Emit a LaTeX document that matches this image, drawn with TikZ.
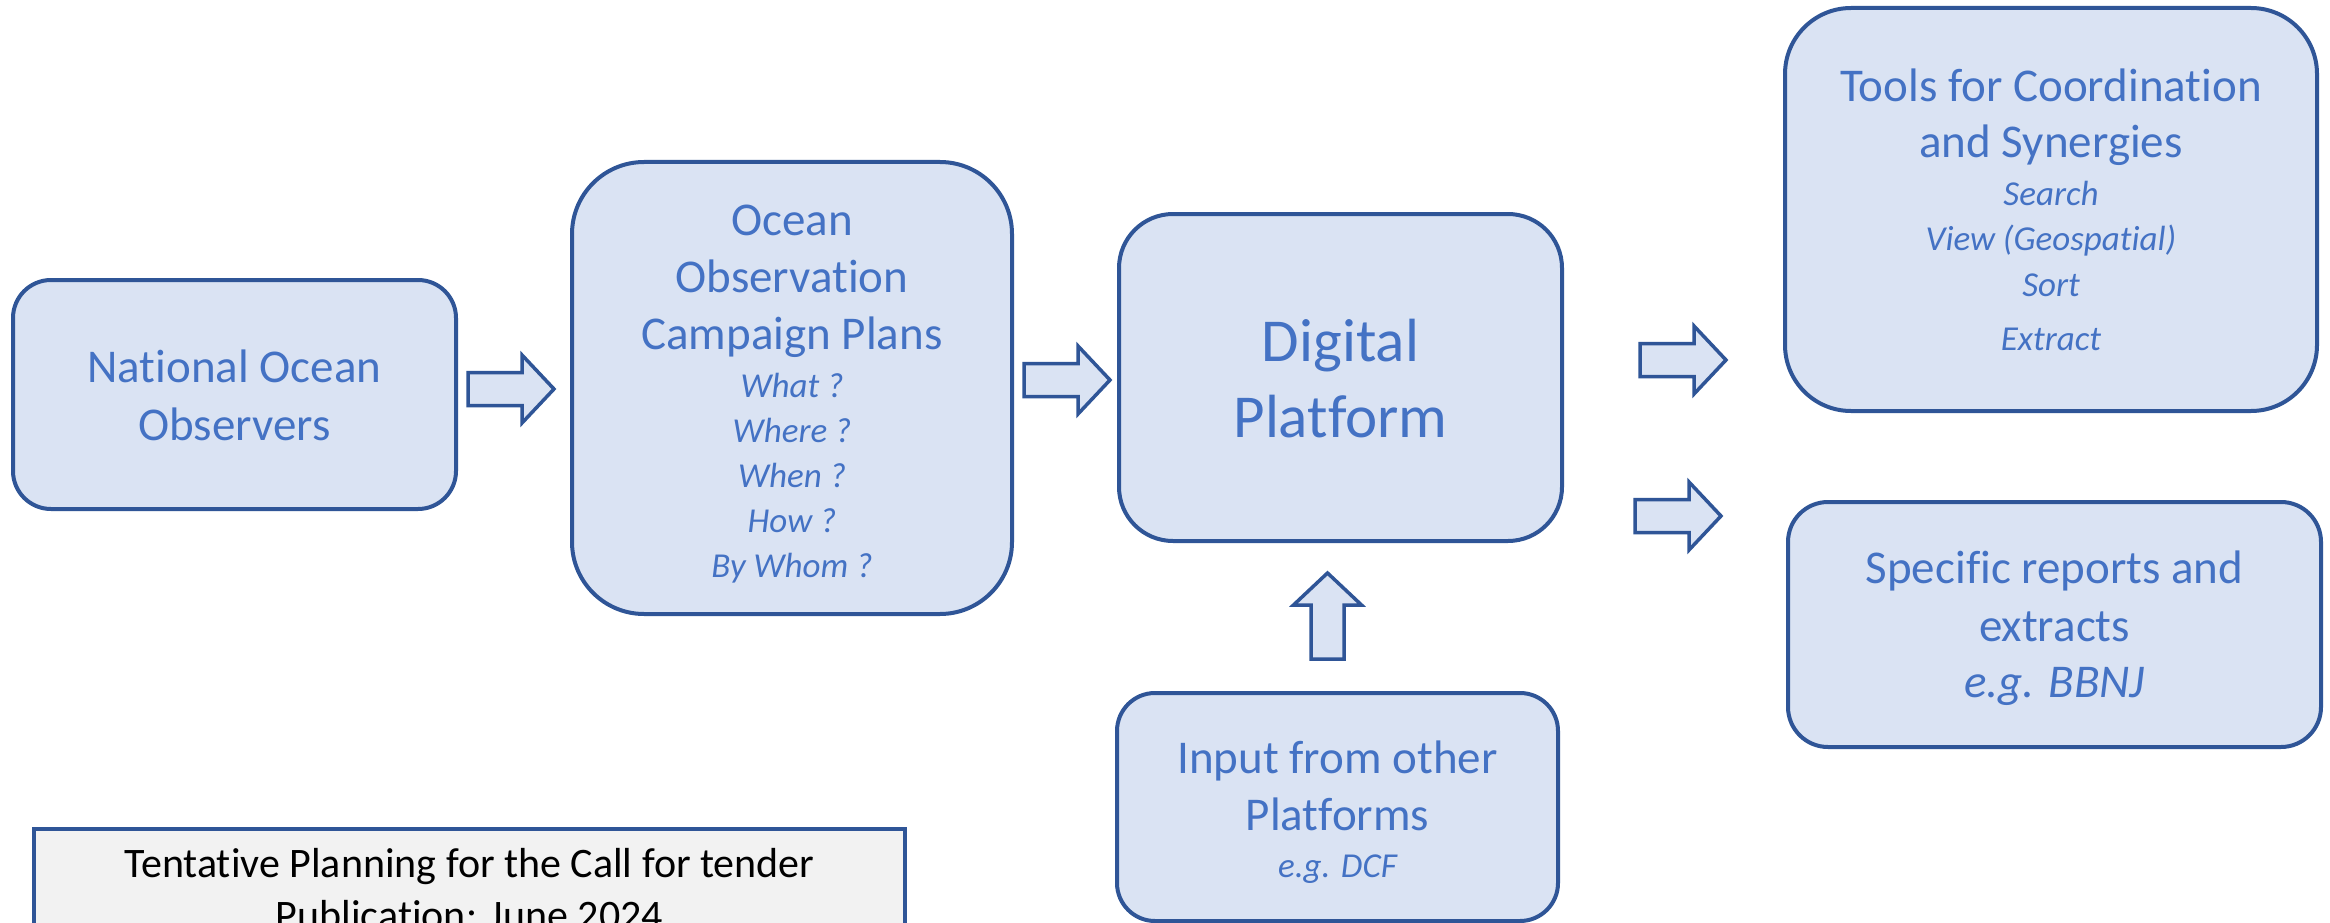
\documentclass[tikz,border=0pt]{standalone}
\usepackage{fontspec}
\setmainfont{Carlito}[Ligatures=NoCommon]
\definecolor{boxfill}{HTML}{DAE3F3}
\definecolor{boxline}{HTML}{2F5597}
\definecolor{boxtext}{HTML}{4472C4}
\definecolor{tentfill}{HTML}{F2F2F2}
\newcommand\subline[1]{{\fontsize{35}{45}\selectfont\itshape #1}}
\tikzset{
  box/.style={draw=boxline, fill=boxfill, line width=4pt, inner sep=0pt, outer sep=0pt},
  txt/.style={text=boxtext, align=center, inner sep=0pt, anchor=base},
  barrow/.pic={\draw[draw=boxline, fill=boxfill, line width=3.5pt, line join=miter]
     (-43,-16.5) -- (11,-16.5) -- (11,-34) -- (43,0) -- (11,34) -- (11,16.5) -- (-43,16.5) -- cycle;}
}
\begin{document}
\begin{tikzpicture}[x=1pt,y=-1pt]
\clip (0,0) rectangle (2330,923);
\fill[white] (0,0) rectangle (2330,923);
% boxes
\node[box, rounded corners=38pt, minimum width=443pt, minimum height=229pt] (n1) at (234.5,394.5) {};
\node[box, rounded corners=72pt, minimum width=440pt, minimum height=452pt] (n2) at (792,388) {};
\node[box, rounded corners=54pt, minimum width=443pt, minimum height=327pt] (n3) at (1340.5,377.5) {};
\node[box, rounded corners=66pt, minimum width=532pt, minimum height=403pt] (n4) at (2051,209.5) {};
\node[box, rounded corners=40pt, minimum width=533pt, minimum height=245pt] (n5) at (2054.5,624.5) {};
\node[box, rounded corners=38pt, minimum width=441pt, minimum height=228pt] (n6) at (1337.5,807) {};
\node[draw=boxline, fill=tentfill, line width=3.5pt, inner sep=0pt, minimum width=871pt, minimum height=200pt, anchor=north] (tent) at (469.5,827) {};
% texts
\node[txt, font={\fontsize{47}{58}\selectfont}] (t1) at (n1.center |- 0,440) {National Ocean\\Observers};
\node[txt, font={\fontsize{47}{57}\selectfont}] (t2) at (n2.center |- 0,577)
  {Ocean\\Observation\\Campaign Plans\\[-9pt]\subline{What ?}\\[-12pt]\subline{Where ?}\\[-12pt]\subline{When ?}\\[-12pt]\subline{How ?}\\[-12pt]\subline{By Whom ?}};
\node[txt, font={\fontsize{61}{76}\selectfont}] (t3) at (n3.center |- 0,437) {Digital\\Platform};
\node[txt, font={\fontsize{47}{56}\selectfont}] (t4) at (n4.center |- 0,350)
  {Tools for Coordination\\and Synergies\\[-8pt]\subline{Search}\\[-11pt]\subline{View (Geospatial)}\\[-10pt]\subline{Sort}\\[-2pt]\subline{Extract}};
\node[txt, font={\fontsize{47}{58}\selectfont}] (t5) at (n5.center |- 0,697)
  {Specific reports and\\extracts\\[-2pt]{\itshape e.g. BBNJ}};
\node[txt, font={\fontsize{47}{57}\selectfont}] (t6) at (n6.center |- 0,877)
  {Input from other\\Platforms\\[-10pt]\subline{e.g. DCF}};
\node[txt, text=black, font={\fontsize{42}{52}\selectfont}] (t7) at (tent.center |- 0,929)
  {Tentative Planning for the Call for tender\\Publication: June 2024};
% block arrows
\pic (a1) at (511,389) {barrow};
\pic (a2) at (1067,380) {barrow};
\pic (a3) at (1683,360) {barrow};
\pic (a4) at (1678,516) {barrow};
\pic[rotate=90] (a5) at (1327.5,616) {barrow};
\end{tikzpicture}
\end{document}
